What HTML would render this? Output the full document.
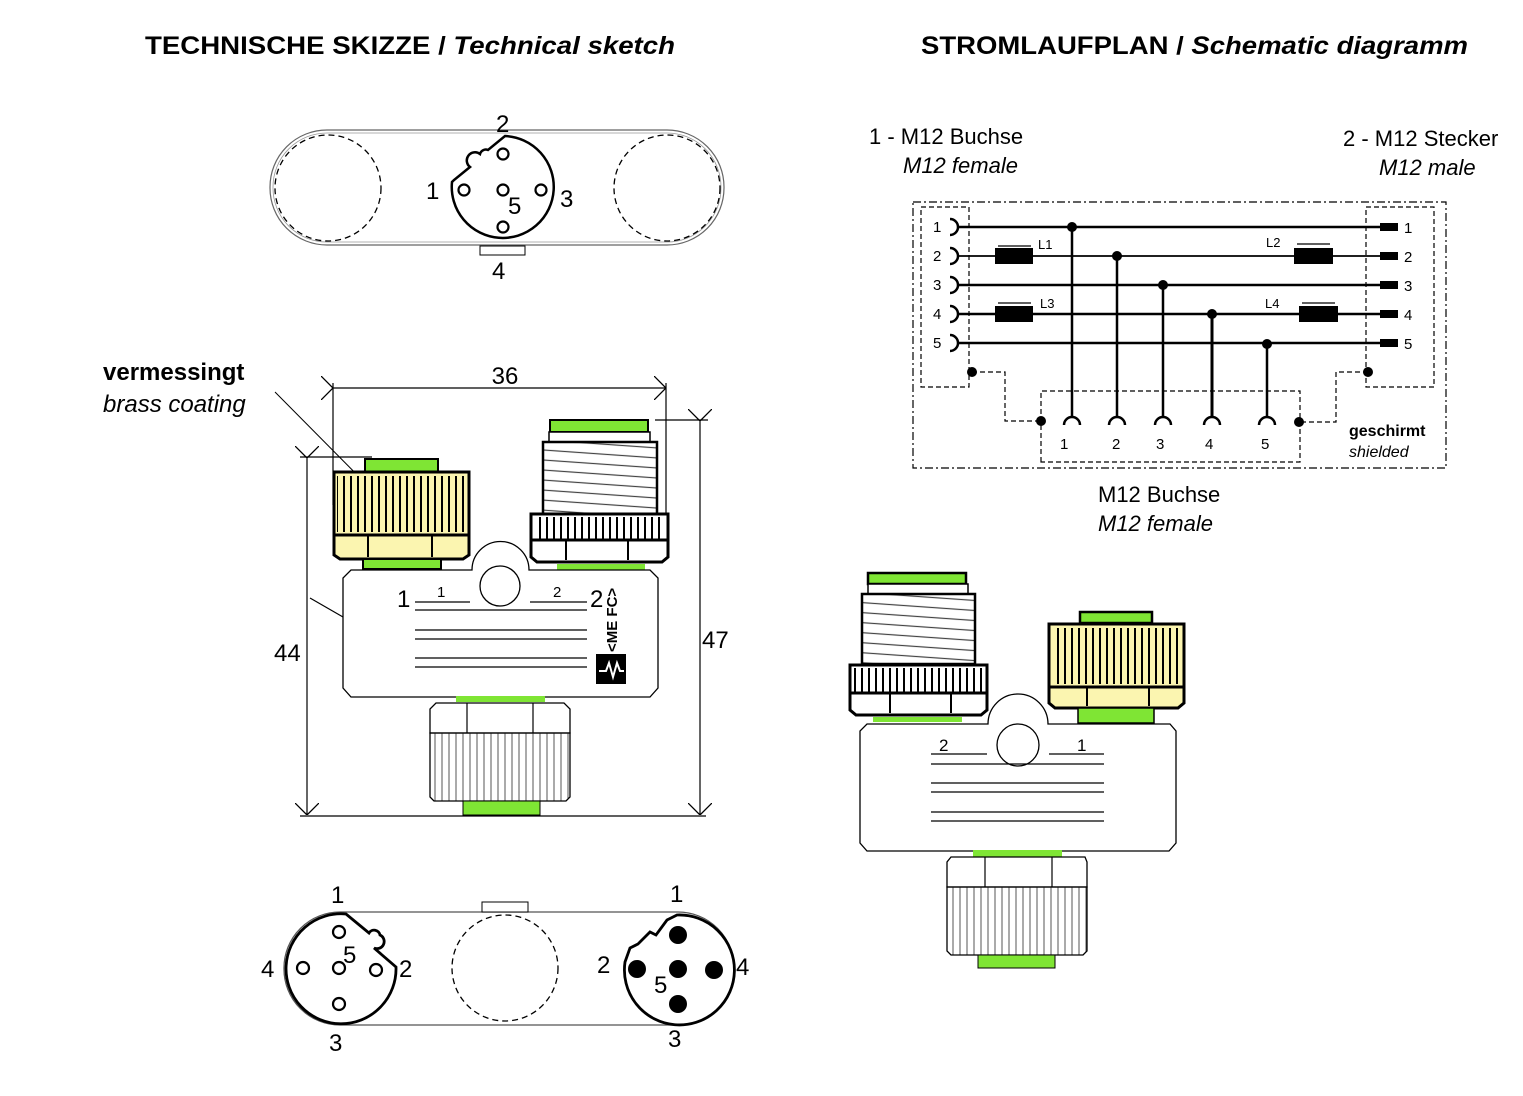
<!DOCTYPE html>
<html><head><meta charset="utf-8"><style>
html,body{margin:0;padding:0;background:#fff;}
svg{display:block;font-family:"Liberation Sans",Arial,sans-serif;}
</style></head><body>
<svg width="1523" height="1096" viewBox="0 0 1523 1096" xmlns="http://www.w3.org/2000/svg">
<defs>
<pattern id="knurl" width="7" height="10" patternUnits="userSpaceOnUse"><rect width="7" height="10" fill="none"/><line x1="1" y1="0" x2="1" y2="10" stroke="#000" stroke-width="2"/></pattern>
<pattern id="knurlT" width="7" height="10" patternUnits="userSpaceOnUse"><line x1="1" y1="0" x2="1" y2="10" stroke="#555" stroke-width="1"/></pattern>
<pattern id="thread" width="10" height="10" patternUnits="userSpaceOnUse" patternTransform="rotate(4)"><line x1="0" y1="1" x2="10" y2="1" stroke="#444" stroke-width="1.2"/></pattern>
<marker id="ar" viewBox="0 0 12 24" refX="12" refY="12" markerWidth="12" markerHeight="24" orient="auto" markerUnits="userSpaceOnUse"><path d="M0,0 L12,12 L0,24" fill="none" stroke="#000" stroke-width="1.3"/></marker>
</defs>

<!-- titles -->
<text x="145" y="54" font-size="25" font-weight="bold" textLength="530" lengthAdjust="spacingAndGlyphs">TECHNISCHE SKIZZE / <tspan font-style="italic">Technical sketch</tspan></text>
<text x="921" y="54" font-size="25" font-weight="bold" textLength="547" lengthAdjust="spacingAndGlyphs">STROMLAUFPLAN / <tspan font-style="italic">Schematic diagramm</tspan></text>

<!-- top view -->
<g fill="none" stroke="#000">
<rect x="270" y="130" width="454" height="115" rx="57" stroke="#666" stroke-width="1.2"/>
<rect x="273" y="133" width="448" height="109" rx="54" stroke="#999" stroke-width="0.8"/>
<circle cx="328" cy="188" r="53" stroke-dasharray="6,4" stroke-width="1.3"/>
<circle cx="667" cy="188" r="53" stroke-dasharray="6,4" stroke-width="1.3"/>
<path d="M505,136 A51,51 0 1 1 452,182 L454,180 L470,167 A6,6 0 0 1 480,154 A6,6 0 0 1 488,150 Z" stroke-width="2.5"/>
<g stroke-width="2.2"><circle cx="503" cy="154" r="5.5"/><circle cx="464" cy="190" r="5.5"/><circle cx="541" cy="190" r="5.5"/><circle cx="503" cy="190" r="5.5"/><circle cx="503" cy="227" r="5.5"/></g>
<rect x="480" y="246" width="45" height="9" stroke-width="1"/>
</g>
<g font-size="24">
<text x="496" y="132">2</text><text x="426" y="199">1</text><text x="560" y="207">3</text><text x="508" y="214">5</text><text x="492" y="279">4</text>
</g>

<!-- vermessingt -->
<text x="103" y="380" font-size="24" font-weight="bold">vermessingt</text>
<text x="103" y="412" font-size="24" font-style="italic">brass coating</text>
<line x1="275" y1="392" x2="382" y2="500" stroke="#000" stroke-width="1"/>

<!-- dimensions left -->
<g stroke="#000" stroke-width="1.2" fill="none">
<line x1="333" y1="383" x2="333" y2="505"/>
<line x1="666" y1="383" x2="666" y2="513"/>
<line x1="333" y1="388" x2="666" y2="388" marker-start="url(#ar)" marker-end="url(#ar)"/>
<line x1="300" y1="457" x2="372" y2="457"/>
<line x1="307" y1="458" x2="307" y2="815" marker-start="url(#ar)" marker-end="url(#ar)"/>
<line x1="655" y1="420" x2="708" y2="420"/>
<line x1="700" y1="421" x2="700" y2="815" marker-start="url(#ar)" marker-end="url(#ar)"/>
<line x1="300" y1="816" x2="706" y2="816"/>
<line x1="310" y1="598" x2="343" y2="617"/>
</g>
<text x="505" y="384" font-size="24" text-anchor="middle">36</text>
<text x="274" y="661" font-size="24">44</text>
<text x="702" y="648" font-size="24">47</text>

<!-- left device -->
<g stroke="#000">
<rect x="365" y="459" width="73" height="13" fill="#7fe534" stroke-width="2"/>
<rect x="334" y="472" width="135" height="63" fill="#fbf5b0" stroke-width="3"/>
<rect x="337" y="476" width="129" height="56" fill="url(#knurl)" stroke="none"/>
<path d="M334,535 H469 V555 L463,559 H340 L334,555 Z" fill="#fbf5b0" stroke-width="3"/>
<line x1="368" y1="535" x2="368" y2="557" stroke-width="2"/><line x1="432" y1="535" x2="432" y2="557" stroke-width="2"/>
<rect x="363" y="559" width="78" height="10" fill="#7fe534" stroke-width="2"/>
<rect x="550" y="420" width="98" height="12" fill="#7fe534" stroke-width="2"/>
<rect x="549" y="432" width="101" height="10" fill="#fff" stroke-width="1.5"/>
<rect x="543" y="442" width="114" height="72" fill="url(#thread)" stroke-width="2.5"/>
<rect x="531" y="514" width="137" height="26" fill="#fff" stroke-width="3"/>
<rect x="534" y="517" width="131" height="22" fill="url(#knurl)" stroke="none"/>
<path d="M531,540 H668 V557 L662,562 H537 L531,557 Z" fill="#fff" stroke-width="3"/>
<line x1="566" y1="540" x2="566" y2="560" stroke-width="2"/><line x1="628" y1="540" x2="628" y2="560" stroke-width="2"/>
<rect x="557" y="564" width="88" height="6" fill="#7fe534" stroke="none"/>
<path d="M351,570 H472 A28,28 0 0 1 529,570 H650 L658,578 V688 L650,697 H351 L343,688 V578 Z" fill="#fff" stroke-width="1.3"/>
<circle cx="500" cy="586" r="20" fill="#fff" stroke-width="1.3"/>
<g stroke-width="1.2">
<line x1="415" y1="602" x2="470" y2="602"/><line x1="530" y1="602" x2="587" y2="602"/>
<line x1="415" y1="610" x2="587" y2="610"/><line x1="415" y1="630" x2="587" y2="630"/><line x1="415" y1="639" x2="587" y2="639"/>
<line x1="415" y1="658" x2="587" y2="658"/><line x1="415" y1="667" x2="587" y2="667"/>
</g>
<rect x="596" y="654" width="30" height="30" fill="#000" stroke="none"/>
<path d="M599,671 L606,671 L609,663 L613,677 L617,663 L620,671 L624,671" fill="none" stroke="#fff" stroke-width="2"/>
<rect x="456" y="696" width="89" height="6" fill="#7fe534" stroke="none"/>
<path d="M436,703 H564 L570,709 V733 H430 V709 Z" fill="#fff" stroke-width="1.3"/>
<line x1="467" y1="703" x2="467" y2="733" stroke-width="1.2"/><line x1="533" y1="703" x2="533" y2="733" stroke-width="1.2"/>
<path d="M430,733 H570 V797 L566,801 H434 L430,797 Z" fill="url(#knurlT)" stroke-width="1.3"/>
<rect x="463" y="801" width="77" height="14" fill="#7fe534" stroke-width="1"/>
</g>
<text x="397" y="607" font-size="24">1</text><text x="437" y="597" font-size="15">1</text>
<text x="553" y="597" font-size="15">2</text><text x="590" y="607" font-size="24">2</text>
<text x="0" y="0" font-size="15" font-weight="bold" transform="translate(617,652) rotate(-90)">&lt;ME FC&gt;</text>

<!-- schematic -->
<g fill="none" stroke="#000">
<rect x="913" y="202" width="533" height="266" stroke-dasharray="8,3,2,3" stroke-width="1.2"/>
<rect x="921" y="207" width="48" height="180" stroke-dasharray="5,3" stroke-width="1.2"/>
<rect x="1366" y="207" width="68" height="180" stroke-dasharray="5,3" stroke-width="1.2"/>
<path d="M1041,462 V391 H1300 V462 Z" stroke-dasharray="5,3" stroke-width="1.2"/>
<path d="M972,372 H1005 V421 H1041" stroke-dasharray="5,3" stroke-width="1.2"/>
<path d="M1368,372 H1336 V422 H1300" stroke-dasharray="5,3" stroke-width="1.2"/>
<g stroke-width="2.5">
<line x1="958" y1="227" x2="1385" y2="227"/>
<line x1="958" y1="256" x2="1385" y2="256" stroke-width="1.8"/>
<line x1="958" y1="285" x2="1385" y2="285"/>
<line x1="958" y1="314" x2="1385" y2="314"/>
<line x1="958" y1="343" x2="1385" y2="343"/>
<line x1="1072" y1="227" x2="1072" y2="418"/>
<line x1="1117" y1="256" x2="1117" y2="418"/>
<line x1="1163" y1="285" x2="1163" y2="418"/>
<line x1="1212" y1="314" x2="1212" y2="418" stroke-width="3"/>
<line x1="1267" y1="343" x2="1267" y2="418"/>
<path d="M1064,425 A8,8 0 0 1 1080,425 M1109,425 A8,8 0 0 1 1125,425 M1155,425 A8,8 0 0 1 1171,425 M1204,425 A8,8 0 0 1 1220,425 M1259,425 A8,8 0 0 1 1275,425"/>
<path d="M950,219 A8,8 0 0 1 950,235 M950,248 A8,8 0 0 1 950,264 M950,277 A8,8 0 0 1 950,293 M950,306 A8,8 0 0 1 950,322 M950,335 A8,8 0 0 1 950,351"/>
</g>
<g stroke-width="1.2"><line x1="998" y1="246" x2="1031" y2="246"/><line x1="1297" y1="244" x2="1330" y2="244"/><line x1="998" y1="303" x2="1031" y2="303"/><line x1="1302" y1="303" x2="1335" y2="303"/></g>
</g>
<g fill="#000">
<rect x="995" y="248" width="38" height="16"/><rect x="1294" y="248" width="39" height="16"/>
<rect x="995" y="306" width="38" height="16"/><rect x="1299" y="306" width="39" height="16"/>
<rect x="1380" y="223" width="18" height="8"/><rect x="1380" y="252" width="18" height="8"/><rect x="1380" y="281" width="18" height="8"/><rect x="1380" y="310" width="18" height="8"/><rect x="1380" y="339" width="18" height="8"/>
<circle cx="1072" cy="227" r="5"/><circle cx="1117" cy="256" r="5"/><circle cx="1163" cy="285" r="5"/><circle cx="1212" cy="314" r="5"/><circle cx="1267" cy="344" r="5"/>
<circle cx="972" cy="372" r="5"/><circle cx="1368" cy="372" r="5"/><circle cx="1041" cy="421" r="5"/><circle cx="1299" cy="422" r="5"/>
</g>
<g font-size="15">
<text x="933" y="232">1</text><text x="933" y="261">2</text><text x="933" y="290">3</text><text x="933" y="319">4</text><text x="933" y="348">5</text>
<text x="1404" y="233">1</text><text x="1404" y="262">2</text><text x="1404" y="291">3</text><text x="1404" y="320">4</text><text x="1404" y="349">5</text>
<text x="1060" y="449">1</text><text x="1112" y="449">2</text><text x="1156" y="449">3</text><text x="1205" y="449">4</text><text x="1261" y="449">5</text>
<text x="1038" y="249" font-size="13">L1</text><text x="1266" y="247" font-size="13">L2</text>
<text x="1040" y="308" font-size="13">L3</text><text x="1265" y="308" font-size="13">L4</text>
</g>
<text x="1349" y="436" font-size="16" font-weight="bold">geschirmt</text>
<text x="1349" y="457" font-size="16" font-style="italic">shielded</text>
<g font-size="22">
<text x="869" y="144">1 - M12 Buchse</text><text x="903" y="173" font-style="italic">M12 female</text>
<text x="1343" y="146">2 - M12 Stecker</text><text x="1379" y="175" font-style="italic">M12 male</text>
<text x="1098" y="502">M12 Buchse</text><text x="1098" y="531" font-style="italic">M12 female</text>
</g>

<!-- right device -->
<g stroke="#000">
<rect x="868" y="573" width="98" height="11" fill="#7fe534" stroke-width="2.5"/>
<rect x="868" y="584" width="100" height="10" fill="#fff" stroke-width="1.5"/>
<rect x="862" y="594" width="113" height="70" fill="url(#thread)" stroke-width="2.5"/>
<rect x="850" y="665" width="137" height="28" fill="#fff" stroke-width="3"/>
<rect x="853" y="668" width="131" height="24" fill="url(#knurl)" stroke="none"/>
<path d="M850,693 H987 V710 L981,715 H856 L850,710 Z" fill="#fff" stroke-width="3"/>
<line x1="890" y1="693" x2="890" y2="713" stroke-width="2"/><line x1="951" y1="693" x2="951" y2="713" stroke-width="2"/>
<rect x="873" y="717" width="89" height="5" fill="#7fe534" stroke="none"/>
<rect x="1080" y="612" width="72" height="11" fill="#7fe534" stroke-width="2.5"/>
<rect x="1049" y="624" width="135" height="63" fill="#fbf5b0" stroke-width="3"/>
<rect x="1052" y="628" width="129" height="56" fill="url(#knurl)" stroke="none"/>
<path d="M1049,687 H1184 V703 L1178,708 H1055 L1049,703 Z" fill="#fbf5b0" stroke-width="3"/>
<line x1="1087" y1="687" x2="1087" y2="706" stroke-width="2"/><line x1="1149" y1="687" x2="1149" y2="706" stroke-width="2"/>
<rect x="1078" y="708" width="76" height="15" fill="#7fe534" stroke-width="1.5"/>
<path d="M867,724 H988 A30,30 0 0 1 1048,724 H1170 L1176,731 V843 L1169,851 H867 L860,843 V731 Z" fill="#fff" stroke-width="1.3"/>
<circle cx="1018" cy="745" r="21" fill="#fff" stroke-width="1.3"/>
<g stroke-width="1.2">
<line x1="931" y1="754" x2="987" y2="754"/><line x1="1049" y1="754" x2="1104" y2="754"/>
<line x1="931" y1="764" x2="1104" y2="764"/><line x1="931" y1="783" x2="1104" y2="783"/><line x1="931" y1="792" x2="1104" y2="792"/>
<line x1="931" y1="812" x2="1104" y2="812"/><line x1="931" y1="821" x2="1104" y2="821"/>
</g>
<rect x="973" y="850" width="89" height="7" fill="#7fe534" stroke="none"/>
<path d="M951,857 H1085 L1087,862 V887 H947 V862 Z" fill="#fff" stroke-width="1.3"/>
<line x1="985" y1="857" x2="985" y2="887" stroke-width="1.2"/><line x1="1052" y1="857" x2="1052" y2="887" stroke-width="1.2"/>
<path d="M947,887 H1087 V951 L1083,955 H951 L947,951 Z" fill="url(#knurlT)" stroke-width="1.3"/>
<rect x="978" y="955" width="77" height="13" fill="#7fe534" stroke-width="1"/>
</g>
<text x="939" y="751" font-size="17">2</text><text x="1077" y="751" font-size="17">1</text>

<!-- bottom view -->
<g fill="none" stroke="#000">
<rect x="284" y="912" width="450" height="113" rx="56" stroke="#555" stroke-width="1.3"/>
<rect x="482" y="902" width="46" height="10" fill="#fff" stroke-width="1"/>
<circle cx="505" cy="968" r="53" stroke-dasharray="6,4" stroke-width="1.3"/>
<path d="M346,914 A55,55 0 1 0 396,967 L374,948 A6,6 0 0 0 380,935 A6,6 0 0 0 369,933 Z" stroke-width="2.8"/>
<g stroke-width="2.2"><circle cx="339" cy="932" r="6"/><circle cx="303" cy="968" r="6"/><circle cx="339" cy="968" r="6"/><circle cx="376" cy="970" r="6"/><circle cx="339" cy="1004" r="6"/></g>
<path d="M677,915 A55,55 0 1 1 625,962 L630,948 L638,944 L650,932 L656,935 L667,920 Z" stroke-width="2.8"/>
</g>
<g fill="#000"><circle cx="678" cy="935" r="9"/><circle cx="637" cy="969" r="9"/><circle cx="678" cy="969" r="9"/><circle cx="714" cy="970" r="9"/><circle cx="678" cy="1004" r="9"/></g>
<g font-size="24">
<text x="331" y="903">1</text><text x="261" y="977">4</text><text x="399" y="977">2</text><text x="329" y="1051">3</text><text x="343" y="963">5</text>
<text x="670" y="902">1</text><text x="597" y="973">2</text><text x="736" y="975">4</text><text x="668" y="1047">3</text><text x="654" y="993">5</text>
</g>
</svg>
</body></html>
